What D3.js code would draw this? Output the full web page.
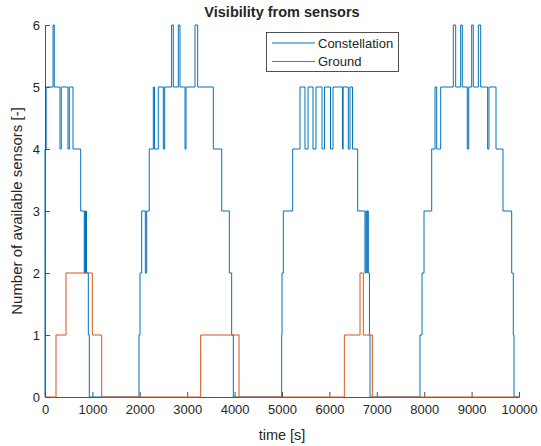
<!DOCTYPE html>
<html>
<head>
<meta charset="utf-8">
<script src="https://cdn.jsdelivr.net/npm/d3@7"></script>
<style>
  body { margin: 0; background: #fff; }
  text { font-family: "Liberation Sans", Arial, Helvetica, sans-serif; fill: #262626; }
</style>
</head>
<body>
<div id="chart"></div>
<script>
// step changes: [time in s, sensors available]
const constellation = [
  [0, 0], [0, 4], [25, 5], [170, 6], [195, 5], [316, 4], [344, 5], [485, 4], [513, 5], [591, 4],
  [753, 3], [829, 2], [840, 3], [855, 2], [862, 3], [875, 2], [914, 1], [935, 0],
  [1983, 1], [2004, 2], [2040, 3], [2117, 2], [2145, 3], [2200, 4], [2285, 5], [2310, 4], [2390, 5],
  [2496, 4], [2525, 5], [2672, 6], [2707, 5], [2813, 6], [2848, 5], [2954, 4], [2975, 5], [3165, 6],
  [3221, 5], [3551, 4], [3728, 3], [3889, 2], [3938, 1], [3973, 0],
  [4993, 1], [5000, 2], [5028, 3], [5225, 4], [5380, 5], [5485, 4], [5550, 5], [5654, 4], [5717, 5],
  [5844, 4], [5897, 5], [6023, 4], [6076, 5], [6276, 4], [6290, 5], [6399, 4], [6434, 5], [6487, 4],
  [6597, 3], [6751, 2], [6770, 3], [6790, 2], [6800, 3], [6821, 2], [6845, 1], [6857, 0],
  [7911, 1], [7954, 2], [7996, 3], [8158, 4], [8228, 5], [8264, 4], [8348, 5], [8614, 6], [8664, 5],
  [8770, 6], [8804, 5], [8909, 4], [8939, 5], [9002, 6], [9036, 5], [9142, 6], [9192, 5], [9339, 4],
  [9367, 5], [9515, 4], [9662, 3], [9846, 2], [9880, 1], [9895, 0], [10000, 0]
];
const ground = [
  [0, 0], [232, 1], [443, 2], [998, 1], [1196, 0], [3284, 1], [4093, 0],
  [6315, 1], [6646, 2], [6716, 1], [6906, 0], [10000, 0]
];
const xTicks = [0, 1000, 2000, 3000, 4000, 5000, 6000, 7000, 8000, 9000, 10000];
const yTicks = [0, 1, 2, 3, 4, 5, 6];
const seriesNames = ["Constellation", "Ground"];
const seriesColors = ["#0072BD", "#D95319"];

const width = 541, height = 446;
const margin = { top: 25, right: 22, bottom: 49, left: 45 };

const svg = d3.select("#chart").append("svg")
  .attr("width", width)
  .attr("height", height);

const x = d3.scaleLinear().domain([0, 10000]).range([margin.left, width - margin.right]);
const y = d3.scaleLinear().domain([0, 6]).range([height - margin.bottom, margin.top]);

// axes, ticks pointing inward like matlab
const xAxis = d3.axisBottom(x).tickValues(xTicks).tickFormat(d3.format("d"))
  .tickSizeInner(-5).tickSizeOuter(0).tickPadding(8);
const yAxis = d3.axisLeft(y).tickValues(yTicks).tickFormat(d3.format("d"))
  .tickSizeInner(-5).tickSizeOuter(0).tickPadding(5);

const gx = svg.append("g")
  .attr("transform", `translate(0, ${y(0)})`)
  .call(xAxis);
const gy = svg.append("g")
  .attr("transform", `translate(${x(0)}, 0)`)
  .call(yAxis);

[gx, gy].forEach(g => {
  g.selectAll("path, line").attr("stroke", "#262626").attr("stroke-width", 0.8);
  g.selectAll("text").attr("font-size", 13).attr("fill", "#262626")
    .attr("font-family", '"Liberation Sans", Arial, sans-serif');
});

const line = d3.line()
  .x(d => x(d[0]))
  .y(d => y(d[1]))
  .curve(d3.curveStepAfter);

[constellation, ground].forEach((data, i) => {
  svg.append("path")
    .datum(data)
    .attr("fill", "none")
    .attr("stroke", seriesColors[i])
    .attr("stroke-width", 1)
    .attr("d", line);
});

// title and labels
svg.append("text")
  .attr("x", (x(0) + x(10000)) / 2)
  .attr("y", 17)
  .attr("text-anchor", "middle")
  .attr("font-size", 14.5)
  .attr("font-weight", "bold")
  .attr("fill", "#000")
  .text("Visibility from sensors");

svg.append("text")
  .attr("x", (x(0) + x(10000)) / 2)
  .attr("y", 440)
  .attr("text-anchor", "middle")
  .attr("font-size", 14.5)
  .text("time [s]");

svg.append("text")
  .attr("transform", `translate(22, ${(y(0) + y(6)) / 2}) rotate(-90)`)
  .attr("text-anchor", "middle")
  .attr("font-size", 15)
  .text("Number of available sensors [-]");

// legend
const legend = svg.append("g");
legend.append("rect")
  .attr("x", 266.5).attr("y", 32.5)
  .attr("width", 132).attr("height", 39)
  .attr("fill", "#fff")
  .attr("stroke", "#262626")
  .attr("stroke-width", 0.8);

seriesNames.forEach((name, i) => {
  const ly = 43 + i * 18.5;
  legend.append("line")
    .attr("x1", 272).attr("x2", 315)
    .attr("y1", ly).attr("y2", ly)
    .attr("stroke", seriesColors[i])
    .attr("stroke-width", 1);
  legend.append("text")
    .attr("x", 318).attr("y", ly + 4.5)
    .attr("font-size", 13)
    .text(name);
});
</script>
</body>
</html>
